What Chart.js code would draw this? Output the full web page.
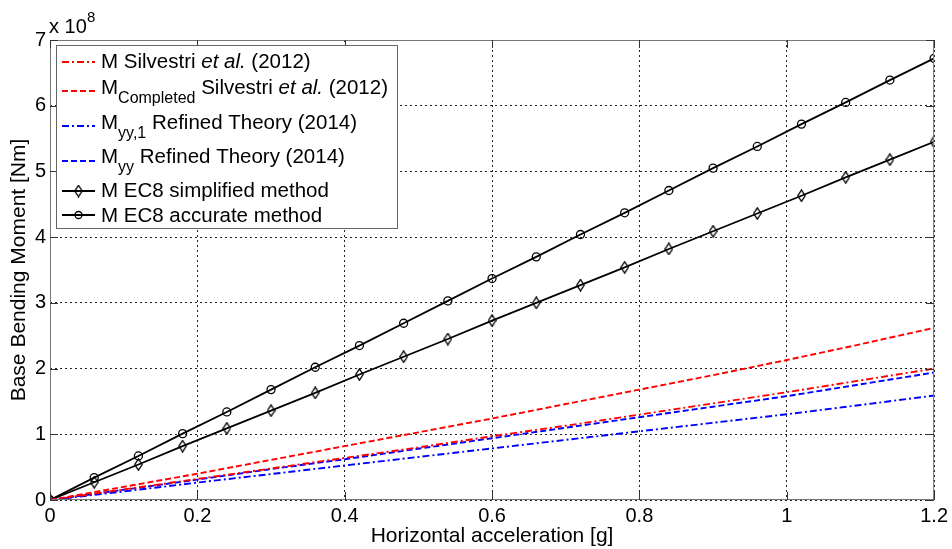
<!DOCTYPE html>
<html>
<head>
<meta charset="utf-8">
<script src="https://cdn.jsdelivr.net/npm/chart.js@4.4.1/dist/chart.umd.min.js"></script>
<style>
html, body { margin: 0; padding: 0; background: #fff; }
#wrap { width: 952px; height: 549px; position: relative; }
</style>
</head>
<body>
<div id="wrap"><canvas id="c"></canvas></div>
<script>
// acceleration steps of the EC8 curves (markers)
var accel = [0, 0.06, 0.12, 0.18, 0.24, 0.30, 0.36, 0.42, 0.48, 0.54, 0.60,
             0.66, 0.72, 0.78, 0.84, 0.90, 0.96, 1.02, 1.08, 1.14, 1.20];
// base bending moment, x 10^8 Nm
var momAccurate = [0, 0.34, 0.67, 1.01, 1.34, 1.68, 2.02, 2.35, 2.69, 3.03, 3.37,
                   3.70, 4.04, 4.37, 4.71, 5.05, 5.38, 5.72, 6.05, 6.39, 6.72];
var momSimplified = [0, 0.27, 0.54, 0.82, 1.09, 1.36, 1.63, 1.91, 2.18, 2.45, 2.73,
                     3.00, 3.27, 3.54, 3.82, 4.09, 4.36, 4.63, 4.91, 5.18, 5.45];

// acceleration steps of the analytical curves
var accelFine = [0, 0.1, 0.2, 0.3, 0.4, 0.5, 0.6, 0.7, 0.8, 0.9, 1.0, 1.1, 1.2];
var momSilvestri = [0, 0.16, 0.32, 0.48, 0.64, 0.80, 0.97, 1.13, 1.30, 1.47, 1.64, 1.82, 2.00];
var momCompleted = [0, 0.20, 0.40, 0.61, 0.82, 1.03, 1.24, 1.46, 1.68, 1.90, 2.13, 2.37, 2.62];
var momYY1 = [0, 0.13, 0.265, 0.395, 0.525, 0.655, 0.785, 0.915, 1.045, 1.175, 1.305, 1.445, 1.59];
var momYY = [0, 0.155, 0.31, 0.47, 0.62, 0.78, 0.94, 1.10, 1.26, 1.42, 1.58, 1.76, 1.94];

var xTicks = [0, 0.2, 0.4, 0.6, 0.8, 1.0, 1.2];
var yTicks = [0, 1, 2, 3, 4, 5, 6, 7];

var FONT = 'Arial, "Liberation Sans", sans-serif';

function pts(xs, ys) {
    var out = [];
    for (var i = 0; i < xs.length; i++) out.push({ x: xs[i], y: ys[i] });
    return out;
}

// tall thin diamond like matlab 'd' marker
var diamond = document.createElement('canvas');
diamond.width = 9; diamond.height = 13;
(function () {
    var g = diamond.getContext('2d');
    g.strokeStyle = '#000';
    g.lineWidth = 1.3;
    g.beginPath();
    g.moveTo(4.5, 0.8); g.lineTo(8.2, 6.5); g.lineTo(4.5, 12.2); g.lineTo(0.8, 6.5);
    g.closePath();
    g.stroke();
})();

var dashDot = [7, 3, 2, 3];
var dashed = [6, 3];

// legend rows: text pieces (sub = subscript, it = italic)
var legendRows = [
    { lineY: 62, textY: 62, dash: dashDot, color: '#ff0000', parts: [{ t: 'M Silvestri ' }, { t: 'et al.', it: 1 }, { t: ' (2012)' }] },
    { lineY: 91, textY: 88, dash: dashed, color: '#ff0000', parts: [{ t: 'M' }, { t: 'Completed', sub: 1 }, { t: ' Silvestri ' }, { t: 'et al.', it: 1 }, { t: ' (2012)' }] },
    { lineY: 126, textY: 123, dash: dashDot, color: '#0000ff', parts: [{ t: 'M' }, { t: 'yy,1', sub: 1 }, { t: ' Refined Theory (2014)' }] },
    { lineY: 161, textY: 157, dash: dashed, color: '#0000ff', parts: [{ t: 'M' }, { t: 'yy', sub: 1 }, { t: ' Refined Theory (2014)' }] },
    { lineY: 191, textY: 191, dash: [], color: '#000', marker: 'd', parts: [{ t: 'M EC8 simplified method' }] },
    { lineY: 215, textY: 216, dash: [], color: '#000', marker: 'o', parts: [{ t: 'M EC8 accurate method' }] }
];

var matlabDecor = {
    id: 'matlabDecor',
    afterDraw: function (chart) {
        var ctx = chart.ctx, a = chart.chartArea;
        var xs = chart.scales.x, ys = chart.scales.y;
        ctx.save();
        // axes box
        ctx.strokeStyle = '#777';
        ctx.lineWidth = 1;
        ctx.setLineDash([]);
        ctx.strokeRect(a.left + 0.5, a.top + 0.5, a.right - a.left - 1, a.bottom - a.top - 1);
        // inward ticks
        ctx.strokeStyle = '#333';
        ctx.beginPath();
        xTicks.forEach(function (v) {
            var px = Math.round(xs.getPixelForValue(v)) + 0.5;
            ctx.moveTo(px, a.bottom); ctx.lineTo(px, a.bottom - 8);
            ctx.moveTo(px, a.top); ctx.lineTo(px, a.top + 8);
        });
        yTicks.forEach(function (v) {
            var py = Math.round(ys.getPixelForValue(v)) + 0.5;
            ctx.moveTo(a.left, py); ctx.lineTo(a.left + 8, py);
            ctx.moveTo(a.right, py); ctx.lineTo(a.right - 8, py);
        });
        ctx.stroke();

        // exponent label
        ctx.fillStyle = '#000';
        ctx.textBaseline = 'middle';
        ctx.textAlign = 'left';
        ctx.font = '20px ' + FONT;
        ctx.fillText('x 10', 49, 27);
        ctx.font = '15px ' + FONT;
        ctx.fillText('8', 87, 18);

        // legend
        var lx = 56.5, ly = 45.5, lw = 341, lh = 183;
        ctx.fillStyle = '#fff';
        ctx.fillRect(lx, ly, lw, lh);
        ctx.strokeStyle = '#666';
        ctx.lineWidth = 1;
        ctx.strokeRect(lx, ly, lw, lh);
        legendRows.forEach(function (r) {
            ctx.strokeStyle = r.color;
            ctx.lineWidth = 1.8;
            ctx.setLineDash(r.dash);
            ctx.beginPath();
            ctx.moveTo(62, r.lineY); ctx.lineTo(95, r.lineY);
            ctx.stroke();
            ctx.setLineDash([]);
            if (r.marker === 'd') {
                ctx.drawImage(diamond, 78.5 - 4.5, r.lineY - 6.5);
            } else if (r.marker === 'o') {
                ctx.lineWidth = 1.3;
                ctx.beginPath();
                ctx.arc(78.5, r.lineY, 3.5, 0, Math.PI * 2);
                ctx.stroke();
            }
            var x = 101;
            ctx.fillStyle = '#000';
            r.parts.forEach(function (p) {
                var y = r.textY;
                if (p.sub) { ctx.font = '16px ' + FONT; y += 11; }
                else if (p.it) { ctx.font = 'italic 20.5px ' + FONT; }
                else { ctx.font = '20.5px ' + FONT; }
                ctx.fillText(p.t, x, y);
                x += ctx.measureText(p.t).width;
            });
        });
        ctx.restore();
    }
};

var gridStyle = { color: '#222', lineWidth: 1, drawTicks: false };

new Chart(document.getElementById('c'), {
    type: 'line',
    data: {
        datasets: [
            { data: pts(accelFine, momSilvestri), borderColor: '#ff0000', borderWidth: 1.9, borderDash: dashDot, pointRadius: 0 },
            { data: pts(accelFine, momCompleted), borderColor: '#ff0000', borderWidth: 1.9, borderDash: dashed, pointRadius: 0 },
            { data: pts(accelFine, momYY1), borderColor: '#0000ff', borderWidth: 1.9, borderDash: dashDot, pointRadius: 0 },
            { data: pts(accelFine, momYY), borderColor: '#0000ff', borderWidth: 1.9, borderDash: dashed, pointRadius: 0 },
            { data: pts(accel, momSimplified), borderColor: '#000', borderWidth: 1.8, pointStyle: diamond, pointRadius: 5 },
            { data: pts(accel, momAccurate), borderColor: '#000', borderWidth: 1.8, pointStyle: 'circle', pointRadius: 4,
              pointBorderWidth: 1.3, pointBorderColor: '#000', pointBackgroundColor: 'rgba(0,0,0,0)' }
        ]
    },
    plugins: [matlabDecor],
    options: {
        responsive: true,
        maintainAspectRatio: false,
        animation: false,
        devicePixelRatio: 1,
        layout: { padding: { top: 40, right: 14, left: 0, bottom: 0 } },
        plugins: { legend: { display: false }, tooltip: { enabled: false } },
        elements: { line: { tension: 0 } },
        scales: {
            x: {
                type: 'linear', min: 0, max: 1.2,
                afterBuildTicks: function (s) { s.ticks = xTicks.map(function (v) { return { value: v }; }); },
                afterFit: function (s) { s.height = 49; },
                grid: gridStyle,
                border: { display: false, dash: [2, 3] },
                ticks: {
                    autoSkip: false, maxRotation: 0, padding: 4, color: '#000',
                    font: { family: FONT, size: 20 },
                    callback: function (v) { return String(Number(v.toFixed(1))); }
                },
                title: { display: true, text: 'Horizontal acceleration [g]', color: '#000',
                         font: { family: FONT, size: 21 }, padding: { top: 0, bottom: 0 } }
            },
            y: {
                type: 'linear', min: 0, max: 7,
                afterBuildTicks: function (s) { s.ticks = yTicks.map(function (v) { return { value: v }; }); },
                afterFit: function (s) { s.width = 50; },
                grid: gridStyle,
                border: { display: false, dash: [2, 3] },
                ticks: {
                    padding: 4, color: '#000',
                    font: { family: FONT, size: 20 },
                    callback: function (v) { return String(v); }
                },
                title: { display: true, text: 'Base Bending Moment [Nm]', color: '#000',
                         font: { family: FONT, size: 21 }, padding: { top: 7, bottom: 0 } }
            }
        }
    }
});
</script>
</body>
</html>
